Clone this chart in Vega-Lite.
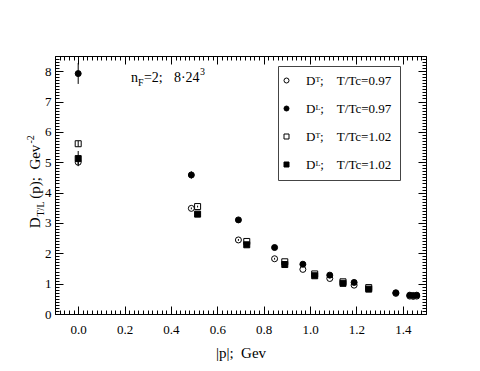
{
  "$schema": "https://vega.github.io/schema/vega-lite/v6.json",
  "width": 371,
  "height": 258,
  "padding": {"left": 25, "top": 55, "right": 5, "bottom": 5},
  "background": "white",
  "config": {
    "view": {"stroke": "black", "strokeWidth": 1},
    "font": "Liberation Serif",
    "axis": {
      "grid": false,
      "domainColor": "black",
      "domainWidth": 1,
      "tickColor": "black",
      "tickWidth": 1,
      "labelColor": "black",
      "titleColor": "black",
      "labelFont": "Liberation Serif",
      "titleFont": "Liberation Serif",
      "labelFontSize": 13,
      "titleFontSize": 15,
      "titleFontWeight": "normal",
      "labelOverlap": false,
      "labelFlush": false,
      "labelBound": false
    },
    "legend": {
      "labelFont": "Liberation Serif",
      "labelFontSize": 13,
      "labelColor": "black"
    }
  },
  "datasets": {
    "pts": [
      {"series": "A", "p": 0, "D": 5.0, "lo": 4.92, "hi": 5.08},
      {"series": "A", "p": 0.488, "D": 3.48, "lo": 3.45, "hi": 3.51},
      {"series": "A", "p": 0.691, "D": 2.44, "lo": 2.41, "hi": 2.47},
      {"series": "A", "p": 0.847, "D": 1.82, "lo": 1.79, "hi": 1.85},
      {"series": "A", "p": 0.969, "D": 1.47},
      {"series": "A", "p": 1.085, "D": 1.17},
      {"series": "A", "p": 1.19, "D": 0.95},
      {"series": "A", "p": 1.37, "D": 0.68},
      {"series": "A", "p": 1.43, "D": 0.59},
      {"series": "A", "p": 1.445, "D": 0.58},
      {"series": "A", "p": 1.46, "D": 0.59},
      {"series": "B", "p": 0, "D": 7.92, "lo": 7.58, "hi": 8.27},
      {"series": "B", "p": 0.488, "D": 4.58, "lo": 4.46, "hi": 4.7},
      {"series": "B", "p": 0.691, "D": 3.1},
      {"series": "B", "p": 0.847, "D": 2.19},
      {"series": "B", "p": 0.969, "D": 1.64},
      {"series": "B", "p": 1.085, "D": 1.28},
      {"series": "B", "p": 1.19, "D": 1.04},
      {"series": "B", "p": 1.37, "D": 0.7},
      {"series": "B", "p": 1.43, "D": 0.62},
      {"series": "B", "p": 1.445, "D": 0.61},
      {"series": "B", "p": 1.46, "D": 0.62},
      {"series": "C", "p": 0, "D": 5.61, "lo": 5.52, "hi": 5.7},
      {"series": "C", "p": 0.515, "D": 3.54, "lo": 3.51, "hi": 3.57},
      {"series": "C", "p": 0.727, "D": 2.39},
      {"series": "C", "p": 0.891, "D": 1.72},
      {"series": "C", "p": 1.02, "D": 1.32},
      {"series": "C", "p": 1.142, "D": 1.06},
      {"series": "C", "p": 1.253, "D": 0.87},
      {"series": "D", "p": 0, "D": 5.12, "lo": 4.87, "hi": 5.37},
      {"series": "D", "p": 0.515, "D": 3.29},
      {"series": "D", "p": 0.727, "D": 2.28},
      {"series": "D", "p": 0.891, "D": 1.63},
      {"series": "D", "p": 1.02, "D": 1.26},
      {"series": "D", "p": 1.142, "D": 1.01},
      {"series": "D", "p": 1.253, "D": 0.82}
    ]
  },
  "layer": [
    {
      "data": {"name": "pts"},
      "mark": {"type": "point", "opacity": 0},
      "encoding": {
        "x": {
          "field": "p", "type": "quantitative",
          "scale": {"domain": [-0.1, 1.5], "nice": false, "zero": false},
          "axis": {
            "orient": "bottom", "domain": false, "labels": false, "title": null,
            "values": [-0.08,-0.06,-0.04,-0.02,0.02,0.04,0.06,0.08,0.1,0.12,0.14,0.16,0.18,0.22,0.24,0.26,0.28,0.3,0.32,0.34,0.36,0.38,0.42,0.44,0.46,0.48,0.5,0.52,0.54,0.56,0.58,0.62,0.64,0.66,0.68,0.7,0.72,0.74,0.76,0.78,0.82,0.84,0.86,0.88,0.9,0.92,0.94,0.96,0.98,1.02,1.04,1.06,1.08,1.1,1.12,1.14,1.16,1.18,1.22,1.24,1.26,1.28,1.3,1.32,1.34,1.36,1.38,1.42,1.44,1.46,1.48],
            "tickSize": -4
          }
        },
        "y": {
          "field": "D", "type": "quantitative",
          "scale": {"domain": [0, 8.5], "nice": false, "zero": false},
          "axis": {
            "orient": "left", "domain": false, "labels": false, "title": null,
            "values": [0.1,0.2,0.3,0.4,0.5,0.6,0.7,0.8,0.9,1.1,1.2,1.3,1.4,1.5,1.6,1.7,1.8,1.9,2.1,2.2,2.3,2.4,2.5,2.6,2.7,2.8,2.9,3.1,3.2,3.3,3.4,3.5,3.6,3.7,3.8,3.9,4.1,4.2,4.3,4.4,4.5,4.6,4.7,4.8,4.9,5.1,5.2,5.3,5.4,5.5,5.6,5.7,5.8,5.9,6.1,6.2,6.3,6.4,6.5,6.6,6.7,6.8,6.9,7.1,7.2,7.3,7.4,7.5,7.6,7.7,7.8,7.9,8.1,8.2,8.3,8.4],
            "tickSize": -4
          }
        }
      }
    },
    {
      "data": {"name": "pts"},
      "mark": {"type": "point", "opacity": 0},
      "encoding": {
        "x": {
          "field": "p", "type": "quantitative",
          "scale": {"domain": [-0.1, 1.5], "nice": false, "zero": false},
          "axis": {
            "orient": "top", "domain": false, "labels": false, "title": null,
            "values": [-0.08,-0.06,-0.04,-0.02,0.02,0.04,0.06,0.08,0.1,0.12,0.14,0.16,0.18,0.22,0.24,0.26,0.28,0.3,0.32,0.34,0.36,0.38,0.42,0.44,0.46,0.48,0.5,0.52,0.54,0.56,0.58,0.62,0.64,0.66,0.68,0.7,0.72,0.74,0.76,0.78,0.82,0.84,0.86,0.88,0.9,0.92,0.94,0.96,0.98,1.02,1.04,1.06,1.08,1.1,1.12,1.14,1.16,1.18,1.22,1.24,1.26,1.28,1.3,1.32,1.34,1.36,1.38,1.42,1.44,1.46,1.48],
            "tickSize": -4
          }
        },
        "y": {
          "field": "D", "type": "quantitative",
          "scale": {"domain": [0, 8.5], "nice": false, "zero": false},
          "axis": {
            "orient": "right", "domain": false, "labels": false, "title": null,
            "values": [0.1,0.2,0.3,0.4,0.5,0.6,0.7,0.8,0.9,1.1,1.2,1.3,1.4,1.5,1.6,1.7,1.8,1.9,2.1,2.2,2.3,2.4,2.5,2.6,2.7,2.8,2.9,3.1,3.2,3.3,3.4,3.5,3.6,3.7,3.8,3.9,4.1,4.2,4.3,4.4,4.5,4.6,4.7,4.8,4.9,5.1,5.2,5.3,5.4,5.5,5.6,5.7,5.8,5.9,6.1,6.2,6.3,6.4,6.5,6.6,6.7,6.8,6.9,7.1,7.2,7.3,7.4,7.5,7.6,7.7,7.8,7.9,8.1,8.2,8.3,8.4],
            "tickSize": -4
          }
        }
      }
    },
    {
      "data": {"name": "pts"},
      "mark": {"type": "point", "opacity": 0},
      "encoding": {
        "x": {
          "field": "p", "type": "quantitative",
          "scale": {"domain": [-0.1, 1.5], "nice": false, "zero": false},
          "axis": {
            "orient": "top", "labels": false,
            "values": [0, 0.2, 0.4, 0.6, 0.8, 1.0, 1.2, 1.4],
            "tickSize": -8,
            "title": "-2",
            "titleFontSize": 10,
            "titleAngle": 270,
            "titleAlign": "center",
            "titleBaseline": "alphabetic",
            "titleX": -22,
            "titleY": 82.8
          }
        },
        "y": {
          "field": "D", "type": "quantitative",
          "scale": {"domain": [0, 8.5], "nice": false, "zero": false},
          "axis": {
            "orient": "right", "labels": false,
            "values": [1, 2, 3, 4, 5, 6, 7, 8],
            "tickSize": -8,
            "title": "T/L",
            "titleFontSize": 10,
            "titleAngle": 270,
            "titleAlign": "center",
            "titleBaseline": "alphabetic",
            "titleX": -383,
            "titleY": 152.5
          }
        }
      }
    },
    {
      "data": {"name": "pts"},
      "mark": {"type": "point", "strokeWidth": 1, "opacity": 1, "size": 36},
      "encoding": {
        "x": {
          "field": "p", "type": "quantitative",
          "scale": {"domain": [-0.1, 1.5], "nice": false, "zero": false},
          "axis": {
            "orient": "bottom",
            "values": [0, 0.2, 0.4, 0.6, 0.8, 1.0, 1.2, 1.4],
            "tickSize": -8,
            "format": ".1f",
            "labelPadding": 17,
            "title": "|p|;\u00a0\u00a0Gev",
            "titleX": 185.5,
            "titleY": 43,
            "titleAlign": "center",
            "titleBaseline": "alphabetic"
          }
        },
        "y": {
          "field": "D", "type": "quantitative",
          "scale": {"domain": [0, 8.5], "nice": false, "zero": false},
          "axis": {
            "orient": "left",
            "values": [0, 1, 2, 3, 4, 5, 6, 7, 8],
            "tickSize": -8,
            "format": "d",
            "labelPadding": 12,
            "title": "D\u00a0\u00a0\u00a0\u00a0\u00a0(p);\u00a0\u00a0Gev",
            "titleAngle": 270,
            "titleAlign": "center",
            "titleBaseline": "alphabetic",
            "titleX": -16,
            "titleY": 130
          }
        },
        "stroke": {"value": "black"},
        "shape": {
          "field": "series", "type": "nominal",
          "scale": {"domain": ["A", "B", "C", "D"], "range": ["circle", "circle", "square", "square"]},
          "legend": {
            "orient": "none", "legendX": 223, "legendY": 10, "title": null,
            "padding": 8, "rowPadding": 14, "labelOffset": 13, "symbolOffset": -6,
            "strokeColor": "#444", "fillColor": "white",
            "symbolSize": 25, "symbolStrokeColor": "black", "symbolStrokeWidth": 1, "symbolOpacity": 1,
            "encode": {"symbols": {"update": {"stroke": {"value": "black"}, "strokeWidth": {"value": 1}}}},
            "labelExpr": "datum.label == 'A' ? 'D\u1d40;\u00a0\u00a0\u00a0\u00a0T/Tc=0.97' : datum.label == 'B' ? 'D\u1d38;\u00a0\u00a0\u00a0\u00a0T/Tc=0.97' : datum.label == 'C' ? 'D\u1d40;\u00a0\u00a0\u00a0\u00a0T/Tc=1.02' : 'D\u1d38;\u00a0\u00a0\u00a0\u00a0T/Tc=1.02'"
          }
        },
        "fill": {
          "field": "series", "type": "nominal",
          "scale": {"domain": ["A", "B", "C", "D"], "range": ["white", "black", "white", "black"]},
          "legend": {
            "orient": "none", "legendX": 223, "legendY": 10, "title": null,
            "padding": 8, "rowPadding": 14, "labelOffset": 13, "symbolOffset": -6,
            "strokeColor": "#444", "fillColor": "white",
            "symbolSize": 25, "symbolStrokeColor": "black", "symbolStrokeWidth": 1, "symbolOpacity": 1,
            "encode": {"symbols": {"update": {"stroke": {"value": "black"}, "strokeWidth": {"value": 1}}}},
            "labelExpr": "datum.label == 'A' ? 'D\u1d40;\u00a0\u00a0\u00a0\u00a0T/Tc=0.97' : datum.label == 'B' ? 'D\u1d38;\u00a0\u00a0\u00a0\u00a0T/Tc=0.97' : datum.label == 'C' ? 'D\u1d40;\u00a0\u00a0\u00a0\u00a0T/Tc=1.02' : 'D\u1d38;\u00a0\u00a0\u00a0\u00a0T/Tc=1.02'"
          }
        }
      }
    },
    {
      "data": {"name": "pts"},
      "transform": [{"filter": "isValid(datum.lo)"}],
      "mark": {"type": "rule", "color": "black", "strokeWidth": 1},
      "encoding": {
        "x": {"field": "p", "type": "quantitative", "scale": {"domain": [-0.1, 1.5], "nice": false, "zero": false}, "axis": null},
        "y": {"field": "lo", "type": "quantitative", "scale": {"domain": [0, 8.5], "nice": false, "zero": false}, "axis": null},
        "y2": {"field": "hi"}
      }
    },
    {
      "data": {"values": [{"p": 0.2275, "D": 7.64}]},
      "layer": [
        {"mark": {"type": "text", "text": "n", "align": "left", "baseline": "alphabetic", "fontSize": 14, "color": "black"}},
        {"mark": {"type": "text", "text": "F", "align": "left", "baseline": "alphabetic", "fontSize": 10, "color": "black", "dx": 7, "dy": 4}},
        {"mark": {"type": "text", "text": "=2;", "align": "left", "baseline": "alphabetic", "fontSize": 14, "color": "black", "dx": 13}},
        {"mark": {"type": "text", "text": "8\u00b724", "align": "left", "baseline": "alphabetic", "fontSize": 14, "color": "black", "dx": 43}},
        {"mark": {"type": "text", "text": "3", "align": "left", "baseline": "alphabetic", "fontSize": 10, "color": "black", "dx": 69, "dy": -7}}
      ],
      "encoding": {
        "x": {"field": "p", "type": "quantitative", "scale": {"domain": [-0.1, 1.5], "nice": false, "zero": false}, "axis": null},
        "y": {"field": "D", "type": "quantitative", "scale": {"domain": [0, 8.5], "nice": false, "zero": false}, "axis": null}
      }
    }
  ],
  "resolve": {"axis": {"x": "independent", "y": "independent"}}
}
